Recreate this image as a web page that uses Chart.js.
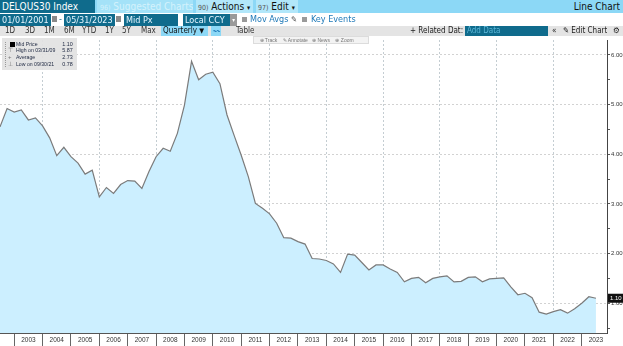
<!DOCTYPE html>
<html>
<head>
<meta charset="utf-8">
<script src="https://cdn.jsdelivr.net/npm/chart.js@4"></script>
<style>
body{margin:0;width:623px;height:346px;overflow:hidden;background:#fff;position:relative;font-family:"DejaVu Sans Condensed","Liberation Sans Narrow","Liberation Sans",sans-serif}
#c{position:absolute;left:0;top:0}
.b{position:absolute;white-space:nowrap;box-sizing:border-box;overflow:hidden}
.fld{background:#0f6b8c;color:#e6f6ff;font-size:9px;height:12px;line-height:12px;padding-left:2px;top:13.5px}
.cb{width:5px;height:5px;background:#9a9a9a;top:17px}
.lnk{color:#1f79b8;font-size:9px;top:13px;line-height:13px}
.r3{top:26px;height:10px;line-height:10px;font-size:8px;color:#333}
.lgr{position:absolute;left:0;width:75px;height:7px;line-height:7px;font-size:6px;font-family:"Liberation Sans",sans-serif;color:#1d2740}
.lgr .v{position:absolute;right:4px;transform:scaleX(0.9);transform-origin:right}
.lgr .t{position:absolute;left:14px;transform:scaleX(0.86);transform-origin:left}
.lgr .i{position:absolute;left:6px;color:#777}
</style>
</head>
<body>
<canvas id="c" width="623" height="346"></canvas>

<!-- row 1 -->
<div class="b" style="left:0;top:0;width:623px;height:13px;background:#8cd8f6"></div>
<div class="b" style="left:0;top:0;width:95px;height:13px;background:#0f6b8c;color:#fff;font-size:10px;line-height:13px;padding-left:2px">DELQUS30 Index</div>
<div class="b" style="left:97px;top:0;width:96px;height:13px;background:#a4e2f8;color:#d4f2fc;font-size:10px;line-height:13px;padding-left:3px"><span style="font-size:7px">96)</span> Suggested Charts</div>
<div class="b" style="left:196px;top:0;width:57px;height:13px;background:#b2e7fa;color:#111;font-size:10px;line-height:13px;padding-left:2px"><span style="font-size:7px;color:#555">90)</span> Actions <span style="font-size:7px">▾</span></div>
<div class="b" style="left:256px;top:0;width:42px;height:13px;background:#b2e7fa;color:#111;font-size:10px;line-height:13px;padding-left:2px"><span style="font-size:7px;color:#555">97)</span> Edit <span style="font-size:7px">▾</span></div>
<div class="b" style="right:3px;top:0;height:13px;color:#111;font-size:10px;line-height:13px">Line Chart</div>

<!-- row 2 -->
<div class="b fld" style="left:0;width:51px">01/01/2001</div>
<div class="b" style="left:52px;top:16px;width:5px;height:6px;background:#8a8a8a"></div>
<div class="b" style="left:59px;top:13px;font-size:9px;line-height:13px;color:#0f6b8c">-</div>
<div class="b fld" style="left:64px;width:51px">05/31/2023</div>
<div class="b" style="left:116px;top:16px;width:5px;height:6px;background:#8a8a8a"></div>
<div class="b fld" style="left:124px;width:54px">Mid Px</div>
<div class="b fld" style="left:183px;width:47px">Local CCY</div>
<div class="b" style="left:230px;top:13.5px;width:7px;height:12px;background:#9a9a9a;color:#fff;font-size:6px;line-height:12px;text-align:center">▾</div>
<div class="b cb" style="left:242px"></div>
<div class="b lnk" style="left:250px">Mov Avgs <span style="color:#555;font-size:8px">✎</span></div>
<div class="b cb" style="left:302px"></div>
<div class="b lnk" style="left:311px">Key Events</div>

<!-- row 3 -->
<div class="b" style="left:0;top:26px;width:623px;height:10px;background:#e4e4e4"></div>
<div class="b r3" style="left:5px">1D</div>
<div class="b r3" style="left:25px">3D</div>
<div class="b r3" style="left:44px">1M</div>
<div class="b r3" style="left:64px">6M</div>
<div class="b r3" style="left:82px">YTD</div>
<div class="b r3" style="left:105px">1Y</div>
<div class="b r3" style="left:122px">5Y</div>
<div class="b r3" style="left:141px">Max</div>
<div class="b r3" style="left:161px;width:47px;background:#8cd8f6;color:#111;padding-left:2px">Quarterly <span style="font-size:7px">▼</span></div>
<div class="b r3" style="left:211px;width:10px;background:#8cd8f6;color:#1f79b8;font-size:7px;text-align:center">〰</div>
<div class="b r3" style="left:236px">Table</div>
<div class="b r3" style="left:410px;color:#222">+ Related Dat:</div>
<div class="b r3" style="left:465px;width:83px;background:#0f6b8c;color:#5cb6d6;padding-left:2px">Add Data</div>
<div class="b r3" style="left:552px;color:#222">«</div>
<div class="b r3" style="left:563px;color:#222">✎ Edit Chart</div>
<div class="b r3" style="left:613px;color:#222">⚙</div>

<!-- chart tools -->
<div class="b" style="left:253px;top:36px;width:116px;height:8px;background:#f3f3f3;border:1px solid #dcdcdc;font-size:5px;line-height:6px;color:#777;font-family:'Liberation Sans',sans-serif">&nbsp;&nbsp;&nbsp;&nbsp;⊕ Track&nbsp;&nbsp;&nbsp;&nbsp;✎ Annotate&nbsp;&nbsp;&nbsp;⊕ News&nbsp;&nbsp;&nbsp;&nbsp;⊕ Zoom</div>

<!-- legend -->
<div class="b" style="left:2px;top:38px;width:75px;height:32px;background:rgba(226,226,226,0.92)">
  <div class="b" style="left:3px;top:4px;width:0;height:25px;border-left:1px dotted #999"></div>
  <div class="lgr" style="top:2.5px"><span class="b" style="left:8px;top:1px;width:5px;height:5px;background:#000"></span><span class="t">Mid Price</span><span class="v">1.10</span></div>
  <div class="lgr" style="top:9.3px"><span class="i">⊤</span><span class="t">High on 03/31/09</span><span class="v">5.87</span></div>
  <div class="lgr" style="top:16px"><span class="i">+</span><span class="t">Average</span><span class="v">2.73</span></div>
  <div class="lgr" style="top:23px"><span class="i">⊥</span><span class="t">Low on 09/30/21</span><span class="v">0.78</span></div>
</div>

<script>
// quarter end dates as decimal years
const quarters = [
  2002.50, 2002.75,
  2003.00, 2003.25, 2003.50, 2003.75,
  2004.00, 2004.25, 2004.50, 2004.75,
  2005.00, 2005.25, 2005.50, 2005.75,
  2006.00, 2006.25, 2006.50, 2006.75,
  2007.00, 2007.25, 2007.50, 2007.75,
  2008.00, 2008.25, 2008.50, 2008.75,
  2009.00, 2009.25, 2009.50, 2009.75,
  2010.00, 2010.25, 2010.50, 2010.75,
  2011.00, 2011.25, 2011.50, 2011.75,
  2012.00, 2012.25, 2012.50, 2012.75,
  2013.00, 2013.25, 2013.50, 2013.75,
  2014.00, 2014.25, 2014.50, 2014.75,
  2015.00, 2015.25, 2015.50, 2015.75,
  2016.00, 2016.25, 2016.50, 2016.75,
  2017.00, 2017.25, 2017.50, 2017.75,
  2018.00, 2018.25, 2018.50, 2018.75,
  2019.00, 2019.25, 2019.50, 2019.75,
  2020.00, 2020.25, 2020.50, 2020.75,
  2021.00, 2021.25, 2021.50, 2021.75,
  2022.00, 2022.25, 2022.50, 2022.75,
  2023.00, 2023.25, 2023.50
];

const midPrice = [
  4.55, 4.92,
  4.85, 4.89, 4.69, 4.73,
  4.57, 4.33, 3.97, 4.14,
  3.95, 3.82, 3.60, 3.68,
  3.14, 3.33, 3.21, 3.39,
  3.47, 3.46, 3.31, 3.65,
  3.95, 4.12, 4.06, 4.42,
  4.99, 5.87, 5.50, 5.61,
  5.65, 5.42, 4.79, 4.38,
  3.98, 3.55, 3.01, 2.91,
  2.80, 2.61, 2.32, 2.31,
  2.24, 2.19, 1.90, 1.89,
  1.86, 1.79, 1.62, 1.99,
  1.97, 1.82, 1.67, 1.77,
  1.77, 1.69, 1.62, 1.43,
  1.50, 1.52, 1.41, 1.50,
  1.53, 1.55, 1.43, 1.44,
  1.52, 1.53, 1.43, 1.49,
  1.50, 1.51, 1.33, 1.17,
  1.20, 1.11, 0.82, 0.78,
  0.83, 0.87, 0.80, 0.89,
  1.00, 1.13, 1.10
];

const yearLabels = ['2003','2004','2005','2006','2007','2008','2009','2010','2011','2012','2013',
  '2014','2015','2016','2017','2018','2019','2020','2021','2022','2023'];

const clear = 'rgba(0,0,0,0)';

// black tag with the last value on the right axis
const lastTag = {
  id: 'lastTag',
  afterDraw(chart) {
    const ys = chart.scales.y;
    const last = midPrice[midPrice.length - 1];
    const py = ys.getPixelForValue(last);
    const c = chart.ctx;
    c.save();
    c.fillStyle = '#111';
    c.fillRect(ys.left + 1, py - 4.5, 15, 9);
    c.fillStyle = '#fff';
    c.font = '6px "Liberation Sans"';
    c.textBaseline = 'middle';
    c.fillText(last.toFixed(2), ys.left + 3, py + 0.5);
    c.restore();
  }
};

new Chart(document.getElementById('c'), {
  type: 'line',
  data: {
    datasets: [{
      data: quarters.map((q, i) => ({ x: q, y: midPrice[i] })),
      borderColor: '#7b7b7b',
      borderWidth: 1.2,
      backgroundColor: '#ccefff',
      fill: 'start',
      pointRadius: 0,
      tension: 0
    }]
  },
  options: {
    responsive: false,
    animation: false,
    devicePixelRatio: 1,
    layout: { padding: { top: 40, left: 0, right: 0, bottom: 0 } },
    plugins: { legend: { display: false }, tooltip: { enabled: false } },
    scales: {
      x: {
        type: 'linear',
        min: 2002.5,
        max: 2023.89,
        z: 1,
        afterBuildTicks: s => { s.ticks = yearLabels.map(y => ({ value: Number(y) + 0.5 })); },
        afterFit: s => { s.height = 13; },
        ticks: {
          autoSkip: false, maxRotation: 0, padding: -10, color: '#333',
          font: { size: 6.5, family: 'Liberation Sans' },
          callback: (v, i) => yearLabels[i]
        },
        grid: {
          offset: true,
          tickLength: 13,
          // only even-year boundaries get a line in the plot
          color: c => (c.tick && Math.floor(c.tick.value) % 2 === 0) ? '#c4cdd2' : clear,
          tickColor: '#666'
        },
        border: { display: true, color: '#555', dash: [2, 2] }
      },
      y: {
        position: 'right',
        min: 0.4,
        max: 6.3,
        z: 1,
        afterFit: s => { s.width = 16; },
        ticks: {
          stepSize: 0.5, includeBounds: false, padding: 1, color: '#333',
          font: { size: 6, family: 'Liberation Sans' },
          callback: v => Number.isInteger(v) ? v.toFixed(2) : ''
        },
        grid: {
          tickLength: 3,
          color: c => (c.tick && Number.isInteger(c.tick.value)) ? '#d2d2d2' : clear,
          tickColor: '#555'
        },
        border: { display: true, color: '#444', dash: [2, 2] }
      }
    }
  },
  plugins: [lastTag]
});
</script>
</body>
</html>
